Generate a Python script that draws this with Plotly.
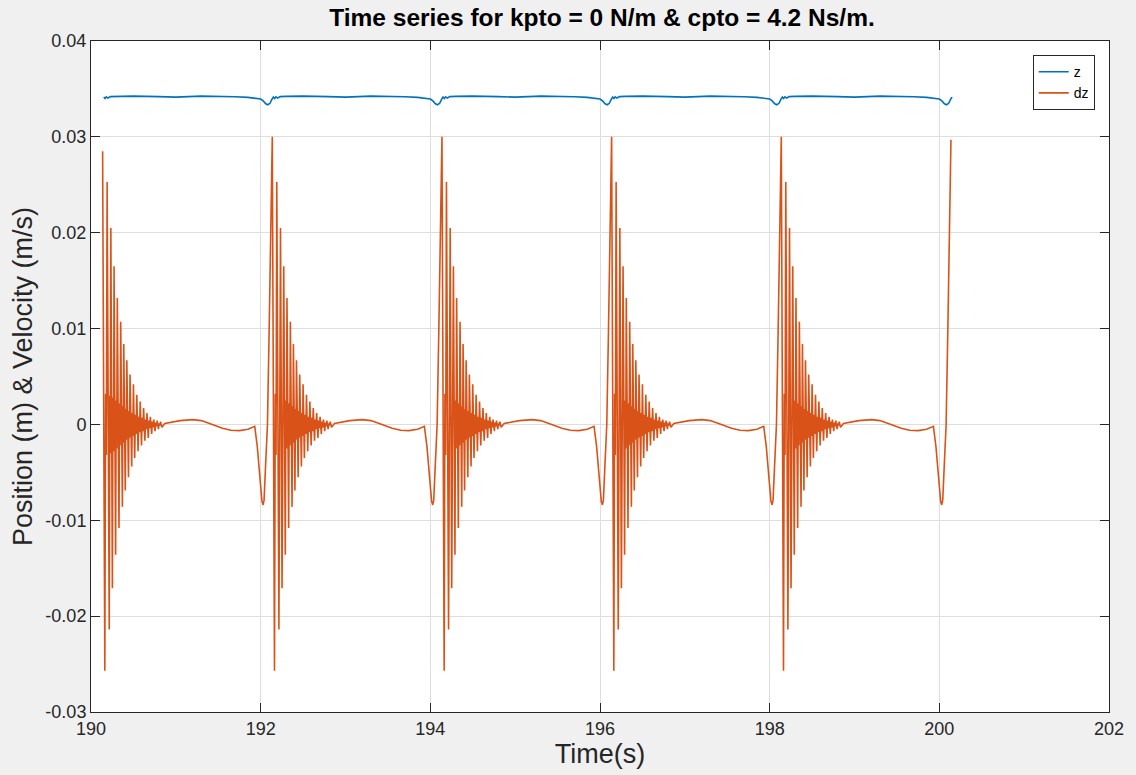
import plotly.graph_objects as go

# ---------------- data ----------------
cycle_starts = [190, 192, 194, 196, 198]   # start of each 2 s impulse cycle
last_cycle = 200                            # partial cycle at the end

# dz : rising edge of each cycle (offset s, value m/s)
dz_rise_t = [0.000, 0.015, 0.028, 0.040, 0.057, 0.080, 0.100, 0.116]
dz_rise_v = [-0.0065, -0.0080, -0.0084, -0.0079, -0.0045, 0.0000, 0.0098, 0.0200]

# dz : decaying oscillation, positive peaks and negative troughs
peak_t = [0.137, 0.190, 0.234, 0.272, 0.310, 0.350, 0.386, 0.422, 0.460,
          0.500, 0.540, 0.580, 0.620, 0.660, 0.700, 0.740, 0.780, 0.820]
peak_v = [0.0300, 0.0253, 0.0205, 0.0165, 0.0132, 0.0107, 0.0084, 0.0067, 0.0052,
          0.0042, 0.0031, 0.0024, 0.0017, 0.0012, 0.0008, 0.0005, 0.0004, 0.0003]
trough_t = [0.163, 0.215, 0.252, 0.290, 0.330, 0.370, 0.404, 0.442, 0.480,
            0.515, 0.555, 0.595, 0.635, 0.675, 0.715, 0.755, 0.795, 0.835]
trough_v = [-0.0257, -0.0214, -0.0171, -0.0136, -0.0108, -0.0086, -0.0069, -0.0055, -0.0044,
            -0.0035, -0.0028, -0.0022, -0.0017, -0.0014, -0.0010, -0.0007, -0.0005, -0.0003]
# half-width of the dense band between the spikes
band_v = [0.0032, 0.0030, 0.0028, 0.0025, 0.0022, 0.0019, 0.0016, 0.0014, 0.0012,
          0.0010, 0.0008, 0.0007, 0.0005, 0.0004, 0.0003, 0.0002, 0.0001]

# dz : slow wave after the oscillation has died out
slow_t = [0.870, 0.950, 1.050, 1.200, 1.300, 1.430, 1.550, 1.650, 1.750, 1.850, 1.930, 1.960]
slow_v = [0.0001, 0.0002, 0.0004, 0.0005, 0.0004, 0.0000, -0.0004, -0.0006, -0.00065,
          -0.0005, -0.0002, -0.0023]

dz_first_value = 0.0285   # value where the record starts (190.137 s)
dz_last_value = 0.0297    # value where the record ends (200.137 s)

# z : position profile of each cycle (offset s, value m)
z_t = [0.000, 0.030, 0.060, 0.085, 0.110, 0.135, 0.150, 0.165, 0.180, 0.200,
       0.230, 0.300, 0.500, 0.800, 1.000, 1.300, 1.500, 1.700, 1.850, 1.950]
z_v = [0.03395, 0.03375, 0.03345, 0.03335, 0.03350, 0.03395, 0.03415, 0.03400, 0.03418,
       0.03405, 0.03420, 0.03422, 0.03425, 0.03420, 0.03415, 0.03425, 0.03425, 0.03418,
       0.03412, 0.03405]
z_start_offset = 0.150

x_ticks = [190, 192, 194, 196, 198, 200, 202]
y_ticks = [-0.03, -0.02, -0.01, 0, 0.01, 0.02, 0.03, 0.04]
y_tick_text = ["-0.03", "-0.02", "-0.01", "0", "0.01", "0.02", "0.03", "0.04"]

# ---------------- build the traces ----------------
osc_t, osc_v = [], []
for i, (pt, pv, tt, tv) in enumerate(zip(peak_t, peak_v, trough_t, trough_v)):
    osc_t += [pt, tt]
    osc_v += [pv, tv]
    if i < len(band_v):
        gap = peak_t[i + 1] - tt
        osc_t += [tt + gap / 3, tt + 2 * gap / 3]
        osc_v += [band_v[i], -band_v[i]]
tpl_t = dz_rise_t + osc_t + slow_t
tpl_v = dz_rise_v + osc_v + slow_v

dz_x, dz_y = [], []
for i, c in enumerate(cycle_starts):
    for t, v in zip(tpl_t, tpl_v):
        if i == 0 and t < peak_t[0]:
            continue
        dz_x.append(c + t)
        dz_y.append(v)
dz_y[0] = dz_first_value
for t, v in zip(tpl_t, tpl_v):
    if t <= peak_t[0]:
        dz_x.append(last_cycle + t)
        dz_y.append(v)
dz_y[-1] = dz_last_value

zx, zy = [], []
for i, c in enumerate(cycle_starts):
    for t, v in zip(z_t, z_v):
        if i == 0 and t < z_start_offset:
            continue
        zx.append(c + t)
        zy.append(v)
for t, v in zip(z_t, z_v):
    if t <= z_start_offset:
        zx.append(last_cycle + t)
        zy.append(v)

fig = go.Figure()
fig.add_trace(go.Scatter(x=zx, y=zy, mode="lines", name="z",
                         line=dict(color="#0072BD", width=1.6)))
fig.add_trace(go.Scatter(x=dz_x, y=dz_y, mode="lines", name="dz",
                         line=dict(color="#D95319", width=1.6)))

axis_color = "#262626"
font_family = "Liberation Sans, Arial, sans-serif"
fig.update_layout(
    width=1136, height=775,
    paper_bgcolor="#f0f0f0", plot_bgcolor="white",
    margin=dict(l=91, r=23, t=41, b=63),
    font=dict(family=font_family, size=18, color=axis_color),
    title=dict(text="<b>Time series for kpto = 0 N/m & cpto = 4.2 Ns/m.</b>",
               x=602 / 1136, xanchor="center", y=1 - 17 / 775, yanchor="middle",
               font=dict(size=24.5, color="black", family=font_family)),
    showlegend=True,
    legend=dict(x=0.986, y=0.979, xanchor="right", yanchor="top",
                bgcolor="white", bordercolor=axis_color, borderwidth=1,
                font=dict(size=14, color="black"), tracegroupgap=0),
)
fig.update_xaxes(range=[190, 202], tickvals=x_ticks,
                 ticktext=[str(v) for v in x_ticks],
                 showline=True, linecolor=axis_color, linewidth=1, mirror="ticks",
                 ticks="inside", ticklen=9, tickcolor=axis_color,
                 showgrid=True, gridcolor="#dedede", gridwidth=1, zeroline=False,
                 title=dict(text="Time(s)", font=dict(size=27, color=axis_color), standoff=2))
fig.update_yaxes(range=[-0.03, 0.04], tickvals=y_ticks, ticktext=y_tick_text,
                 showline=True, linecolor=axis_color, linewidth=1, mirror="ticks",
                 ticks="inside", ticklen=9, tickcolor=axis_color,
                 showgrid=True, gridcolor="#dedede", gridwidth=1, zeroline=False,
                 title=dict(text="Position (m) & Velocity (m/s)",
                            font=dict(size=27, color=axis_color), standoff=4))

fig.write_html("out.html",
               config={"displayModeBar": False},
               post_script="document.body.style.margin='0';"
                           "document.body.style.background='#f0f0f0';"
                           "document.body.style.overflow='hidden';")
